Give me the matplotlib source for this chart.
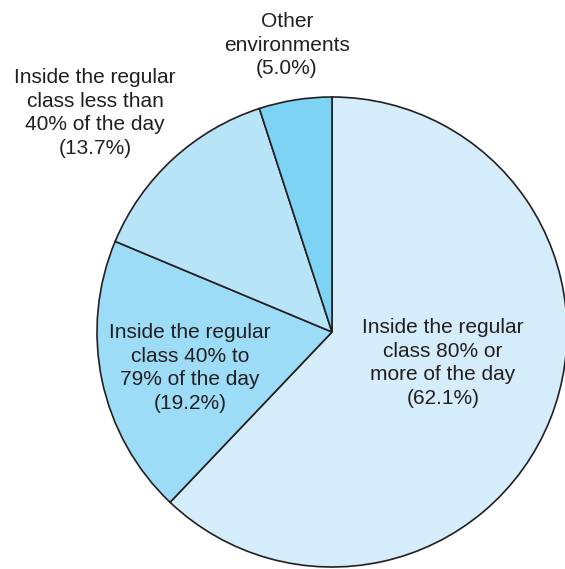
import matplotlib.pyplot as plt

plt.rcParams['font.family'] = ['Liberation Sans', 'DejaVu Sans']

labels = [
    'Inside the regular\nclass 80% or\nmore of the day\n(62.1%)',
    'Inside the regular\nclass 40% to\n79% of the day\n(19.2%)',
    'Inside the regular\nclass less than\n40% of the day\n(13.7%)',
    'Other\nenvironments\n(5.0%)',
]
shares = [62.1, 19.2, 13.7, 5.0]
colors = ['#d5ecfa', '#9ddcf7', '#b8e4f8', '#7dd3f4']
# label centres in pixel coordinates (x, y from top)
label_pos = [(443, 363), (190, 368), (95, 113), (287, 45)]

W, H = 565, 569
fig = plt.figure(figsize=(W / 100, H / 100), dpi=100)
ax = fig.add_axes([0, 0, 1, 1])

ax.pie(shares, colors=colors, startangle=90, counterclock=False,
       center=(332, H - 332), radius=235, frame=True,
       wedgeprops=dict(edgecolor='#231f20', linewidth=1.2))
ax.set_xlim(0, W)
ax.set_ylim(0, H)
ax.axis('off')

for text, (x, y) in zip(labels, label_pos):
    ax.text(x, H - y, text, ha='center', va='center', fontsize=15,
            color='#231f20', linespacing=1.33)

fig.savefig('out.png', dpi=100)
